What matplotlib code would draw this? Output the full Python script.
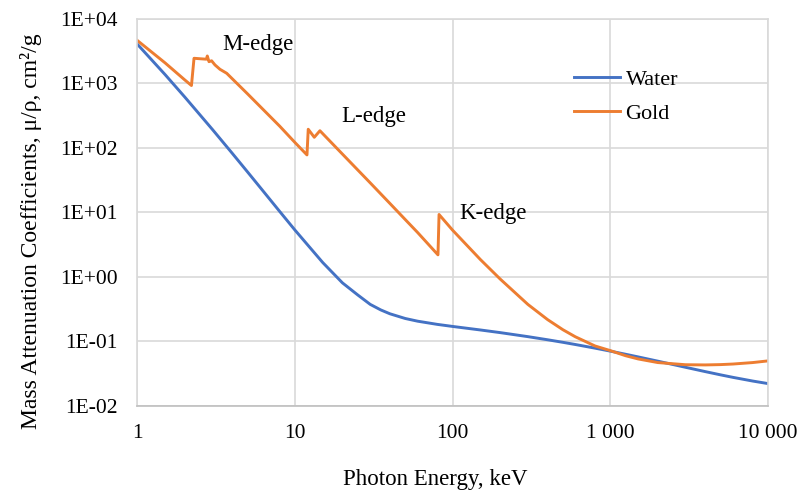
import matplotlib
matplotlib.use("Agg")
import matplotlib.pyplot as plt
from matplotlib.ticker import FixedLocator, FixedFormatter, NullLocator

plt.rcParams['font.family'] = ['Liberation Serif', 'DejaVu Serif']

# photon energy (keV) and mass attenuation coefficient (cm2/g)
water_e = [1.0, 1.5, 2.0, 3.0, 4.0, 5.0, 6.0, 8.0, 10.0, 15.0, 20.0, 25.0, 30.0,
           35.0, 40.0, 50.0, 60.0, 80.0, 100.0, 150.0, 200.0, 300.0, 400.0,
           500.0, 600.0, 800.0, 1000.0, 1250.0, 1500.0, 2000.0, 3000.0, 4000.0,
           5000.0, 6000.0, 8000.0, 10000.0]
water_mu = [4078, 1376, 617.3, 192.9, 82.78, 42.58, 24.64, 10.37, 5.329, 1.673,
            0.8096, 0.526, 0.3756, 0.308, 0.2683, 0.2269, 0.2059, 0.1837,
            0.1707, 0.1505, 0.1370, 0.1186, 0.1061, 0.09687, 0.08956, 0.07865,
            0.07072, 0.06323, 0.05754, 0.04942, 0.03969, 0.03403, 0.03031,
            0.02770, 0.02429, 0.02219]

gold_e = [1.0, 1.5, 2.0, 2.206, 2.29, 2.5, 2.743, 2.78, 2.85, 2.96, 3.11, 3.345,
          3.69, 5.0, 8.0, 10.0, 11.918, 12.14, 13.26, 14.4, 20.0, 30.0, 40.0,
          50.0, 60.0, 80.725, 82.0, 100.0, 150.0, 200.0, 300.0, 400.0, 500.0,
          600.0, 800.0, 1000.0, 1250.0, 1500.0, 2000.0, 3000.0, 4000.0, 5000.0,
          6000.0, 8000.0, 10000.0]
gold_mu = [4652, 2089, 1137, 930, 2460, 2420, 2380, 2670, 2180, 2250, 1940, 1660,
           1440, 692, 218, 121.6, 78, 195, 146.5, 185, 80.4, 28.8, 13.8,
           7.78, 4.88, 2.2, 9.3, 5.3, 1.86, 0.93, 0.375, 0.218, 0.152,
           0.118, 0.085, 0.072, 0.060, 0.0535, 0.0470, 0.0435, 0.0432, 0.0437,
           0.0446, 0.0470, 0.0499]

x_ticks = [1, 10, 100, 1000, 10000]
x_labels = ['1', '10', '100', '1 000', '10 000']
y_ticks = [1e-2, 1e-1, 1e0, 1e1, 1e2, 1e3, 1e4]
y_labels = ['1E-02', '1E-01', '1E+00', '1E+01', '1E+02', '1E+03', '1E+04']

edges = [('M-edge', 3.44, 4090), ('L-edge', 19.8, 305), ('K-edge', 111, 9.5)]

fig = plt.figure(figsize=(8, 4.95), dpi=100)
ax = fig.add_axes([0.1716, 0.180, 0.7884, 0.7816])

ax.plot(water_e, water_mu, color='#4472C4', lw=2.1, label='Water', solid_joinstyle='round')
ax.plot(gold_e, gold_mu, color='#ED7D31', lw=2.1, label='Gold', solid_joinstyle='round')

ax.set_xscale('log')
ax.set_yscale('log')
ax.set_xlim(1, 10000)
ax.set_ylim(1e-2, 1e4)
ax.xaxis.set_major_locator(FixedLocator(x_ticks))
ax.xaxis.set_major_formatter(FixedFormatter(x_labels))
ax.yaxis.set_major_locator(FixedLocator(y_ticks))
ax.yaxis.set_major_formatter(FixedFormatter(y_labels))
ax.xaxis.set_minor_locator(NullLocator())
ax.yaxis.set_minor_locator(NullLocator())
ax.tick_params(axis='both', length=0, labelsize=15.5)
ax.tick_params(axis='x', pad=13)
ax.tick_params(axis='y', pad=14)

ax.grid(True, color='#d9d9d9', lw=1.2)
ax.set_axisbelow(True)
for s in ax.spines.values():
    s.set_color('#d9d9d9')
    s.set_linewidth(1.2)
ax.spines['bottom'].set_color('#bfbfbf')

for txt, ex, ey in edges:
    ax.text(ex, ey, txt, fontsize=16.5, ha='left', va='center')

ax.set_xlabel('Photon Energy, keV', fontsize=16.5)
ax.xaxis.set_label_coords(0.472, -0.163)
ax.set_ylabel('Mass Attenuation Coefficients, μ/ρ, cm²/g', fontsize=17)
ax.yaxis.set_label_coords(-0.151, 0.452)

ax.legend(loc='upper left', bbox_to_anchor=(0.665, 0.915), frameon=False,
          fontsize=16, handlelength=2.05, labelspacing=0.6, handletextpad=0.25,
          borderpad=0.3)

fig.savefig('out.png', dpi=100)
